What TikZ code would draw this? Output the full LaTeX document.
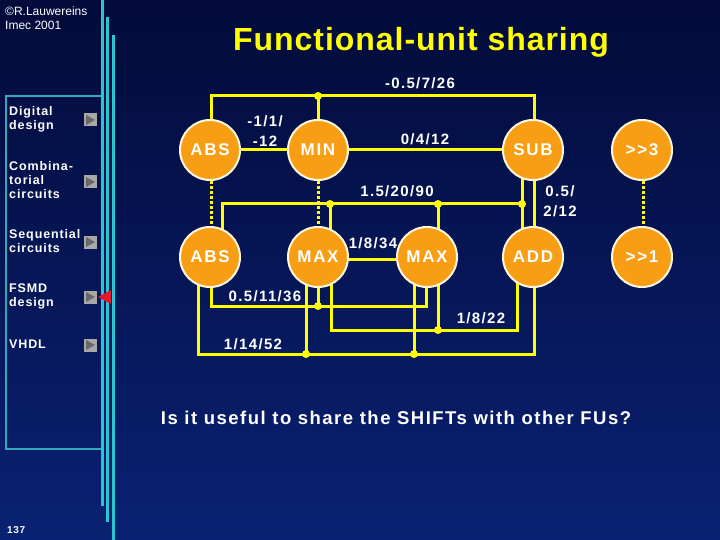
\documentclass[tikz,border=0pt]{standalone}
\usepackage{fontspec}
\setmainfont{Liberation Sans}
\newfontfamily\fuFont[LetterSpace=10]{Liberation Sans}
\newfontfamily\lbFont[LetterSpace=9]{Liberation Sans}
\newfontfamily\qFont[LetterSpace=8]{Liberation Sans}
\newfontfamily\tFont[LetterSpace=3]{Liberation Sans}
\newfontfamily\mFont[LetterSpace=7]{Liberation Sans}
\usetikzlibrary{backgrounds}
\definecolor{bgtop}{RGB}{2,11,58}
\definecolor{bgbot}{RGB}{10,33,115}
\definecolor{fuorange}{RGB}{248,158,20}
\definecolor{fuedge}{RGB}{255,248,225}
\definecolor{wireyel}{RGB}{255,255,0}
\definecolor{barcyan}{RGB}{40,198,210}
\definecolor{boxcyan}{RGB}{50,168,190}
\definecolor{icongray}{RGB}{168,168,168}
\definecolor{icondark}{RGB}{105,105,105}
\definecolor{markred}{RGB}{235,20,45}
\pgfdeclarelayer{wires}
\pgfsetlayers{background,wires,main}
\begin{document}
\begin{tikzpicture}[x=1pt,y=-1pt,
  fu/.style={circle, fill=fuorange, draw=fuedge, line width=2pt, minimum size=60pt, inner sep=0pt,
    text=white, font=\fuFont\bfseries\fontsize{17}{20}\selectfont},
  wire/.style={draw=wireyel, line width=3pt},
  dotwire/.style={draw=wireyel, line width=3pt, dash pattern=on 3pt off 2pt},
  jdot/.style={fill=wireyel},
  lbl/.style={text=white, inner sep=0pt, align=center, font=\lbFont\bfseries\fontsize{15}{20}\selectfont},
  menu/.style={text=white, inner sep=0pt, align=left, anchor=north west, font=\mFont\bfseries\fontsize{12.5}{14}\selectfont},
  bar/.style={draw=barcyan, line width=3pt},
  boxline/.style={draw=boxcyan, line width=1.5pt},
]
\useasboundingbox (0,0) rectangle (720,540);
\begin{pgfonlayer}{background}
\shade[top color=bgtop, bottom color=bgbot] (0,0) rectangle (720,540);
\end{pgfonlayer}

% header texts
\node[text=white, anchor=west, inner sep=0pt, font=\fontsize{12}{14}\selectfont] (copy) at (5,11) {©R.Lauwereins};
\node[text=white, anchor=west, inner sep=0pt, font=\fontsize{12}{14}\selectfont] (imec) at (5,25) {Imec 2001};
\node[text=wireyel, inner sep=0pt, font=\tFont\bfseries\fontsize{32}{36}\selectfont] (title) at (421,42) {Functional-unit sharing};

% menu box
\draw[boxline] (102,96) -- (6,96) -- (6,449) -- (102,449);
\node[menu] (m1) at (9,106) {Digital\\design};
\node[menu] (m2) at (9,161) {Combina-\\torial\\circuits};
\node[menu] (m3) at (9,229) {Sequential\\circuits};
\node[menu] (m4) at (9,284) {FSMD\\design};
\node[menu] (m5) at (9,340) {VHDL};
\foreach \yy/\nm in {120/i1,182/i2,242/i3,297/i4,345/i5}{
  \fill[icongray] (84,\yy-6.5) rectangle (97,\yy+6.5);
  \fill[icondark] (86,\yy-5) -- (95,\yy) -- (86,\yy+5) -- cycle;
}
\draw[bar] (102.5,0) -- (102.5,506);
\draw[bar] (107.5,17) -- (107.5,522);
\draw[bar] (113,35) -- (113,540);
\fill[markred] (98,297) -- (111,290) -- (111,304) -- cycle;
\node[text=white, anchor=west, inner sep=0pt, font=\mFont\bfseries\fontsize{10}{12}\selectfont] (pg) at (7,530) {137};

% functional units
\node[fu] (abs1) at (210,150) {ABS};
\node[fu] (min)  at (318,150) {MIN};
\node[fu] (sub)  at (533,150) {SUB};
\node[fu] (sh3)  at (642,150) {>{}>3};
\node[fu] (abs2) at (210,257) {ABS};
\node[fu] (max1) at (318,257) {MAX};
\node[fu] (max2) at (427,257) {MAX};
\node[fu] (add)  at (533,257) {ADD};
\node[fu] (sh1)  at (642,257) {>{}>1};

\coordinate (j1) at (318,96);
\coordinate (j2) at (330,204);
\coordinate (j3) at (438,204);
\coordinate (j4) at (522,204);
\coordinate (c1) at (318,306);
\coordinate (c2) at (438,330);
\coordinate (c3) at (306,354);
\coordinate (c4) at (414,354);

\begin{pgfonlayer}{wires}
\draw[wire] ([xshift=1pt]abs1.center) |- (j1) -| ([xshift=1pt]sub.center);
\draw[wire] (min.center) -- (j1);
\draw[wire] (abs1.center) -- (min.center);
\draw[wire] (min.center) -- (sub.center);
\draw[wire] ([xshift=12pt]abs2.center) |- (j4);
\draw[wire] ([xshift=-11pt]sub.center) -- ([xshift=-11pt]add.center);
\draw[wire] (j2) -- ([xshift=12pt]max1.center);
\draw[wire] (j3) -- ([xshift=11pt]max2.center);
\draw[wire] ([xshift=1pt]sub.center) -- ([xshift=1pt]add.center);
\draw[dotwire] ([xshift=1pt]abs1.south) -- ([xshift=1pt]abs2.north);
\draw[dotwire] (min.south) -- (max1.north);
\draw[dotwire] ([xshift=1pt]sh3.south) -- ([xshift=1pt]sh1.north);
\draw[wire] ([yshift=-2pt]max1.center) -- ([yshift=-2pt]max2.center);
\draw[wire] ([xshift=1pt]abs2.center) |- (c1) -| ([xshift=-1pt]max2.center);
\draw[wire] (max1.center) -- (c1);
\draw[wire] ([xshift=13pt]max1.center) |- (c2) -| ([xshift=-16pt]add.center);
\draw[wire] ([xshift=11pt]max2.center) -- (c2);
\draw[wire] ([xshift=-12pt]abs2.center) |- (c3) -- (c4) -| ([xshift=1pt]add.center);
\draw[wire] ([xshift=-12pt]max1.center) -- (c3);
\draw[wire] ([xshift=-13pt]max2.center) -- (c4);
\end{pgfonlayer}
\foreach \c in {j1,j2,j3,j4,c1,c2,c3,c4}{\fill[jdot] (\c) circle (4pt);}

% labels
\node[lbl] (l1) at (420,83) {-0.5/7/26};
\node[lbl] (l2) at (265,131) {-1/1/\\-12};
\node[lbl] (l3) at (425,139) {0/4/12};
\node[lbl] (l4) at (397,191) {1.5/20/90};
\node[lbl] (l5) at (560,201) {0.5/\\2/12};
\node[lbl] (l6) at (373,243) {1/8/34};
\node[lbl] (l7) at (265,296) {0.5/11/36};
\node[lbl] (l8) at (481,318) {1/8/22};
\node[lbl] (l9) at (253,344) {1/14/52};

\node[text=white, inner sep=0pt, font=\qFont\bfseries\fontsize{18.5}{20}\selectfont] (q) at (396,418) {Is it useful to share the SHIFTs with other FUs?};
\end{tikzpicture}
\end{document}
